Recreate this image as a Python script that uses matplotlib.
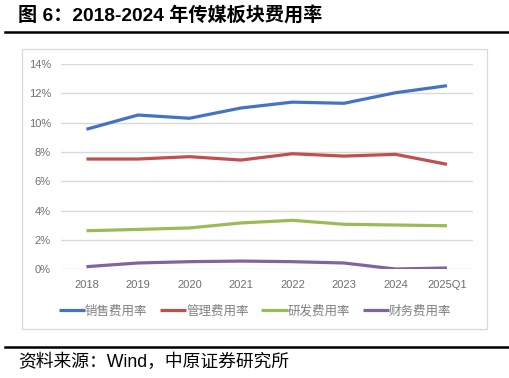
import matplotlib
matplotlib.use('Agg')
import matplotlib.pyplot as plt
from matplotlib.lines import Line2D
from matplotlib.patches import Rectangle
from matplotlib.ticker import FuncFormatter

# ── Data (percent) ────────────────────────────────────────────────────────────
years = ["2018", "2019", "2020", "2021", "2022", "2023", "2024", "2025Q1"]
sales_rate = [9.55, 10.52, 10.30, 11.00, 11.40, 11.32, 12.04, 12.52]
admin_rate = [7.52, 7.52, 7.68, 7.45, 7.88, 7.72, 7.84, 7.16]
rnd_rate = [2.63, 2.72, 2.82, 3.16, 3.34, 3.07, 3.02, 2.97]
fin_rate = [0.18, 0.43, 0.52, 0.56, 0.52, 0.43, 0.02, 0.09]
series_names = ["销售费用率", "管理费用率", "研发费用率", "财务费用率"]
yticks = [0, 2, 4, 6, 8, 10, 12, 14]

colors = ["#4472C4", "#C0504D", "#9BBB59", "#8064A2"]
CJK = ['Noto Sans CJK SC', 'DejaVu Sans']
MIXED = ['Liberation Sans', 'Noto Sans CJK SC', 'DejaVu Sans']
W, H = 510, 378

fig = plt.figure(figsize=(W / 100, H / 100), dpi=100)
ax = fig.add_axes([60.7 / W, 1 - 269.3 / H, (472.7 - 60.7) / W, (269.3 - 64) / H])

x = range(len(years))
for vals, c, name in zip([sales_rate, admin_rate, rnd_rate, fin_rate], colors, series_names):
    ax.plot(x, vals, color=c, lw=2.3, label=name, solid_capstyle='butt')

ax.set_xlim(-0.5, len(years) - 0.5)
ax.set_ylim(0, 14)
ax.set_yticks(yticks)
ax.yaxis.set_major_formatter(FuncFormatter(lambda v, p: f"{v:.0f}%"))
ax.set_xticks(list(x))
ax.set_xticklabels(years)
ax.grid(axis='y', color='#D9D9D9', lw=1)
ax.set_axisbelow(True)
for s in ax.spines.values():
    s.set_visible(False)
ax.tick_params(length=0, labelsize=8, labelcolor='#6E6E6E')
ax.tick_params(axis='y', pad=7)
ax.tick_params(axis='x', pad=8)
for t in ax.get_xticklabels() + ax.get_yticklabels():
    t.set_family('Liberation Sans')

leg = ax.legend(loc='center', bbox_to_anchor=(0.5, (378 - 311) / H), bbox_transform=fig.transFigure,
                ncol=4, frameon=False, handlelength=2.1, handletextpad=0.0,
                columnspacing=1.0, prop={'family': CJK, 'size': 9})
for t in leg.get_texts():
    t.set_color('#808080')

# chart frame
fig.add_artist(Rectangle((21.7 / W, 1 - 329.3 / H), (487.3 - 21.7) / W, (329.3 - 49.3) / H,
                         transform=fig.transFigure, fill=False, ec='#D9D9D9', lw=0.9))

# title and rules
fig.text(18 / W, 1 - 15 / H, "图 6：2018-2024 年传媒板块费用率", family=MIXED,
         fontsize=13.8, fontweight='bold', va='center', ha='left')
fig.add_artist(Line2D([5 / W, 1], [1 - 32 / H] * 2, color='black', lw=1.8, transform=fig.transFigure))
fig.add_artist(Line2D([5 / W, 1], [1 - 347 / H] * 2, color='black', lw=1.8, transform=fig.transFigure))
fig.text(18 / W, 1 - 362.5 / H, "资料来源：Wind，中原证券研究所", family=MIXED,
         fontsize=12.8, va='center', ha='left')

fig.savefig("out.png", dpi=100)
